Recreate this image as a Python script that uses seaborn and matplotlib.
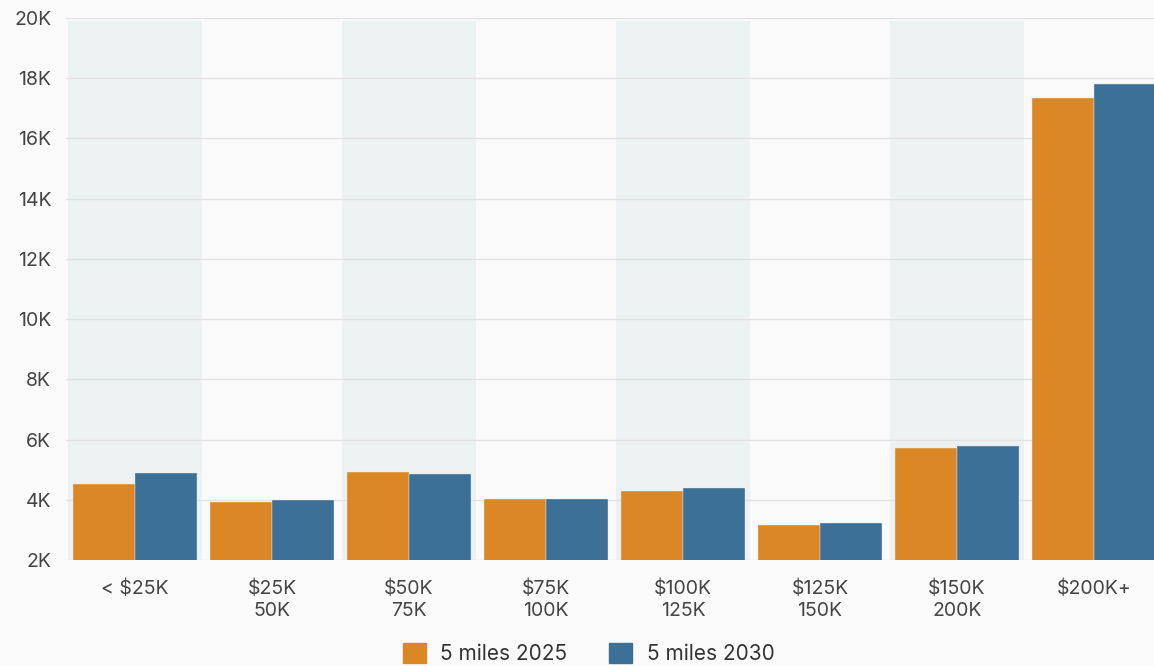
import pandas as pd
import matplotlib.pyplot as plt
import seaborn as sns

categories = ['< $25K', '$25K\n50K', '$50K\n75K', '$75K\n100K', '$100K\n125K',
              '$125K\n150K', '$150K\n200K', '$200K+']
miles5_2025 = [4520, 3930, 4920, 4030, 4290, 3160, 5720, 17340]
miles5_2030 = [4890, 3990, 4860, 4030, 4390, 3230, 5790, 17810]
series = ['5 miles 2025', '5 miles 2030']
colors = ['#DC8726', '#3C7096']

df = pd.DataFrame({
    'Income': categories * 2,
    'Value': miles5_2025 + miles5_2030,
    'Series': [series[0]] * len(categories) + [series[1]] * len(categories),
})

sns.set_style('white')
plt.rcParams['font.family'] = ['Inter', 'DejaVu Sans']

fig = plt.figure(figsize=(11.54, 6.66), dpi=100, facecolor='#FAFAFA')
# axes runs a little past the right edge, as in the reference
ax = fig.add_axes([0.0576, 0.159, 0.9497, 0.814])
ax.set_facecolor('#FAFAFA')

for i in range(0, len(categories), 2):
    ax.axvspan(i - 0.49, i + 0.49, ymin=0, ymax=0.995, color='#ECF1F1', zorder=0, lw=0)

sns.barplot(data=df, x='Income', y='Value', hue='Series', palette=colors,
            width=0.9, gap=0, saturation=1, edgecolor='#E8E8E8', linewidth=0.3,
            ax=ax, zorder=3, legend=False)

ax.set_xlim(-0.5, len(categories) - 0.5)
ax.set_ylim(2000, 20000)
ax.set_yticks(range(2000, 20001, 2000))
ax.set_yticklabels([f'{v // 1000}K' for v in range(2000, 20001, 2000)])
ax.yaxis.grid(True, color='#E2E2E2', lw=1, zorder=1)
ax.set_axisbelow(True)
for s in ax.spines.values():
    s.set_visible(False)
ax.tick_params(axis='y', length=0, labelsize=14, labelcolor='#444444', pad=11)
ax.tick_params(axis='x', length=6, width=1.3, color='#555555', labelsize=14,
               labelcolor='#444444', pad=8)
for lab in ax.get_xticklabels():
    lab.set_linespacing(1.25)
ax.set_xlabel('')
ax.set_ylabel('')

handles = [plt.Rectangle((0, 0), 1, 1, color=c) for c in colors]
fig.legend(handles, series, loc='lower center', bbox_to_anchor=(0.51, -0.025), ncol=2,
           frameon=False, fontsize=15, handlelength=1.1, handleheight=1.1,
           columnspacing=2.0, handletextpad=0.7, labelcolor='#333333')

fig.savefig('out.png', dpi=100, facecolor=fig.get_facecolor())
